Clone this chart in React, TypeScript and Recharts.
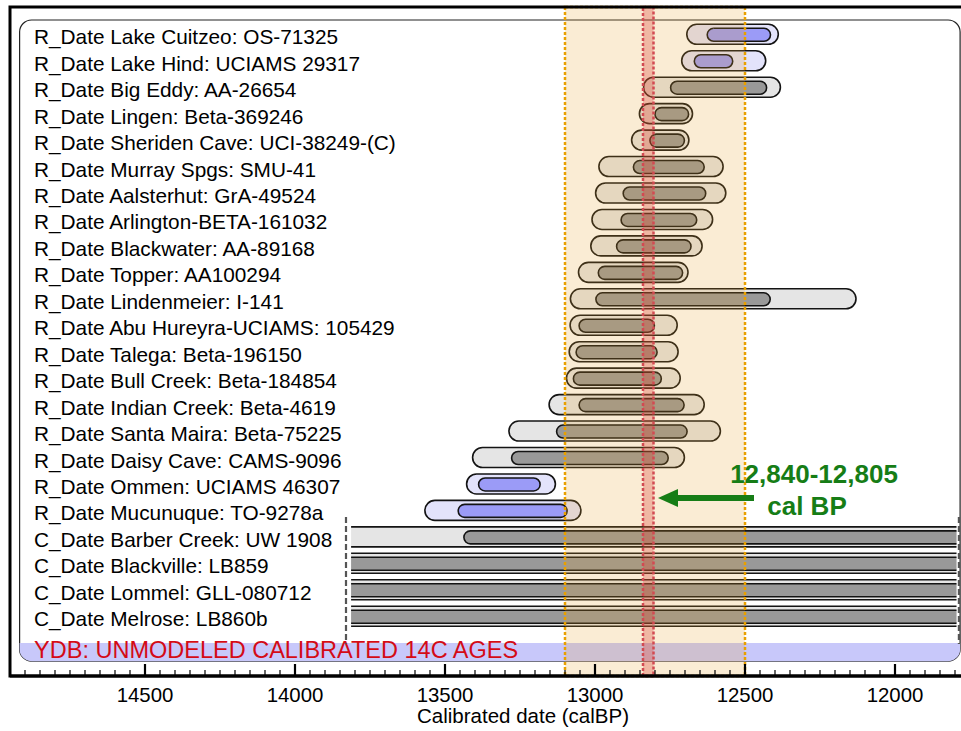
import { BarChart, Bar, XAxis, YAxis, ReferenceArea, ReferenceLine, LabelList } from 'recharts';

// rows, top to bottom
const labels = [
    'R_Date Lake Cuitzeo: OS-71325',
    'R_Date Lake Hind: UCIAMS 29317',
    'R_Date Big Eddy: AA-26654',
    'R_Date Lingen: Beta-369246',
    'R_Date Sheriden Cave: UCI-38249-(C)',
    'R_Date Murray Spgs: SMU-41',
    'R_Date Aalsterhut: GrA-49524',
    'R_Date Arlington-BETA-161032',
    'R_Date Blackwater: AA-89168',
    'R_Date Topper: AA100294',
    'R_Date Lindenmeier: I-141',
    'R_Date Abu Hureyra-UCIAMS: 105429',
    'R_Date Talega: Beta-196150',
    'R_Date Bull Creek: Beta-184854',
    'R_Date Indian Creek: Beta-4619',
    'R_Date Santa Maira: Beta-75225',
    'R_Date Daisy Cave: CAMS-9096',
    'R_Date Ommen: UCIAMS 46307',
    'R_Date Mucunuque: TO-9278a',
    'C_Date Barber Creek: UW 1908',
    'C_Date Blackville: LB859',
    'C_Date Lommel: GLL-080712',
    'C_Date Melrose: LB860b',
];

const kinds = [
    'blue', 'blue', 'grey', 'grey', 'grey', 'grey', 'grey', 'grey', 'grey', 'grey', 'grey', 'grey',
    'grey', 'grey', 'grey', 'grey', 'grey', 'blue', 'blue', 'grey', 'grey', 'grey', 'grey',
];

// calBP, wide (95%) range
const outerOld = [
    12694, 12711, 12838, 12852, 12878, 12987, 12998, 13010, 13014, 13055, 13082, 13083,
    13086, 13095, 13153, 13287, 13408, 13428, 13567, 13813, 13813, 13813, 13813,
];
const outerYoung = [
    12389, 12431, 12382, 12675, 12687, 12573, 12564, 12608, 12643, 12690, 12130, 12726,
    12723, 12716, 12636, 12582, 12702, 13132, 13047, 11795, 11795, 11795, 11795,
];
// narrow (68%) range
const innerOld = [
    12626, 12669, 12748, 12800, 12817, 12872, 12906, 12913, 12928, 12989, 12997, 13053,
    13063, 13072, 13053, 13128, 13278, 13388, 13456, 13437, 13813, 13813, 13813,
];
const innerYoung = [
    12415, 12541, 12428, 12688, 12702, 12636, 12631, 12661, 12680, 12708, 12416, 12802,
    12793, 12779, 12703, 12693, 12756, 13183, 13093, 11795, 11795, 11795, 11795,
];

// C_Date curves are cut off at these limits (dashed lines)
const CLIP_OLD = 13813;
const CLIP_YOUNG = 11795;

const majorTicks = [14500, 14000, 13500, 13000, 12500, 12000];

const X_MIN = 11770;
const X_MAX = 14950;
const minorTicks: number[] = [];
for (let v = 11800; v <= X_MAX; v += 50) minorTicks.push(v);

const YDB_BAND = [13100, 12500];
const YDB_ONSET = [12840, 12805];

const rows = labels.map((label, i) => ({
    idx: i,
    label,
    kind: kinds[i],
    outer: [outerOld[i], outerYoung[i]],
    inner: [innerOld[i], innerYoung[i]],
}));

// row axis: row index -> y, used for the decorations
const ROW_H = 26.45;
const PAD_TOP = 14.3;
const PAD_BOTTOM = 46.35;
const ROW_MIN = -0.5 - PAD_TOP / ROW_H;
const ROW_MAX = rows.length - 0.5 + PAD_BOTTOM / ROW_H;

const FONT = 'Liberation Sans, Arial, Helvetica, sans-serif';
const GREEN = '#167d16';

const COLORS: Record<string, { outer: string; inner: string }> = {
    grey: { outer: '#e5e5e5', inner: '#999999' },
    blue: { outer: '#e3e3fb', inner: '#9b9bf7' },
};

function pillPath(x: number, y: number, w: number, h: number, roundL: boolean, roundR: boolean, closed: boolean) {
    const r = h / 2;
    const l = x + (roundL ? r : 0);
    const rr = x + w - (roundR ? r : 0);
    const capR = roundR ? `A${r},${r} 0 0 1 ${rr},${y + h}` : closed ? `L${x + w},${y + h}` : `M${x + w},${y + h}`;
    const capL = roundL ? `A${r},${r} 0 0 1 ${l},${y}` : closed ? `L${x},${y}` : `M${x},${y}`;
    return `M${l},${y} L${rr},${y} ${capR} L${l},${y + h} ${capL}${closed ? ' Z' : ''}`;
}

const renderPill = (part: 'outer' | 'inner') => (props: any) => {
    const { x, y, width, height, payload } = props;
    if (width == null || height == null) return null;
    const x0 = Math.min(x, x + width);
    const w = Math.abs(width);
    const [oldV, youngV] = payload[part];
    const roundL = oldV !== CLIP_OLD;
    const roundR = youngV !== CLIP_YOUNG;
    const fill = COLORS[payload.kind][part];
    return (
        <g>
            <path d={pillPath(x0, y, w, height, roundL, roundR, true)} fill={fill} stroke="none" />
            <path d={pillPath(x0, y, w, height, roundL, roundR, false)} fill="none" stroke="#141414" strokeWidth={1.6} />
        </g>
    );
};

const RowLabel = (props: any) => {
    const vb = props.viewBox || props;
    const cy = vb.y + vb.height / 2;
    return (
        <text x={34} y={cy + 10} fontSize={20.8} fontFamily={FONT} fill="#000">
            {props.value}
        </text>
    );
};

const AxisTick = (props: any) => {
    const { x, y, payload } = props;
    const major = majorTicks.includes(payload.value);
    return (
        <g>
            <line x1={x} x2={x} y1={y - 1} y2={y - (major ? 12 : 6)} stroke="#000" strokeWidth={major ? 2.2 : 1.2} />
            {major && (
                <text x={x} y={y + 26} textAnchor="middle" fontSize={20.4} fontFamily={FONT} fill="#000">
                    {payload.value}
                </text>
            )}
        </g>
    );
};

const Arrow = (props: any) => {
    const { x1, y1, x2, y2 } = props;
    const head = 20;
    const dir = x2 < x1 ? 1 : -1;
    return (
        <g>
            <line x1={x1} y1={y1} x2={x2 + dir * head} y2={y2} stroke={GREEN} strokeWidth={6} />
            <polygon points={`${x2},${y2} ${x2 + dir * head},${y2 - 9} ${x2 + dir * head},${y2 + 9}`} fill={GREEN} />
            <text x={x1 + 60} y={y1 - 15} textAnchor="middle" fontSize={26} fontWeight="bold" fontFamily={FONT} fill={GREEN}>
                12,840-12,805
            </text>
            <text x={x1 + 53} y={y1 + 17} textAnchor="middle" fontSize={26} fontWeight="bold" fontFamily={FONT} fill={GREEN}>
                cal BP
            </text>
        </g>
    );
};

const YdbBand = (props: any) => {
    const { x, y, width, height } = props;
    const r = 12;
    const d = `M${x},${y} H${x + width} V${y + height - r} A${r},${r} 0 0 1 ${x + width - r},${y + height} H${x + r} A${r},${r} 0 0 1 ${x},${y + height - r} Z`;
    return (
        <g>
            <path d={d} fill="#c8c8fa" stroke="none" />
            <text x={x + 14.5} y={y + height - 3} fontSize={23.5} fontFamily={FONT} fill="#d40b16">
                YDB: UNMODELED CALIBRATED 14C AGES
            </text>
        </g>
    );
};

const InnerBox = (props: any) => {
    const { x, y, width, height } = props;
    return <rect x={x} y={y} width={width} height={height} rx={12} ry={12} fill="#fff" stroke="#222" strokeWidth={1.2} />;
};

export default function App() {
    return (
        <div>
            <style>{'body{margin:0;overflow:hidden;background:#fff}'}</style>
            <BarChart
                width={964}
                height={731}
                data={rows}
                layout="vertical"
                margin={{ top: 7, right: 0, bottom: 0, left: 10 }}
            >
                <XAxis
                    type="number"
                    domain={[X_MIN, X_MAX]}
                    reversed
                    allowDataOverflow
                    ticks={minorTicks}
                    interval={0}
                    tick={<AxisTick />}
                    tickLine={false}
                    tickSize={0}
                    tickMargin={0}
                    axisLine={{ stroke: '#000', strokeWidth: 3 }}
                    height={55}
                    label={{
                        content: (p: any) => (
                            <text
                                x={p.viewBox.x + p.viewBox.width / 2 + 36}
                                y={p.viewBox.y + 47}
                                textAnchor="middle"
                                fontSize={20.5}
                                fontFamily={FONT}
                                fill="#000"
                            >
                                Calibrated date (calBP)
                            </text>
                        ),
                    }}
                />
                <YAxis
                    yAxisId="outer"
                    type="category"
                    dataKey="label"
                    hide
                    padding={{ top: PAD_TOP, bottom: PAD_BOTTOM }}
                />
                <YAxis
                    yAxisId="inner"
                    type="category"
                    dataKey="label"
                    hide
                    padding={{ top: PAD_TOP, bottom: PAD_BOTTOM }}
                />
                {/* in this vertical layout a Y axis already runs top to bottom */}
                <YAxis
                    yAxisId="row"
                    type="number"
                    dataKey="idx"
                    domain={[ROW_MIN, ROW_MAX]}
                    allowDataOverflow
                    hide
                />

                <ReferenceArea
                    yAxisId="row"
                    x1={14918}
                    x2={11783}
                    y1={-0.55}
                    y2={23.69}
                    shape={InnerBox}
                    zIndex={-200}
                />
                <ReferenceArea
                    yAxisId="row"
                    x1={14918}
                    x2={11783}
                    y1={23.0}
                    y2={23.69}
                    shape={YdbBand}
                    zIndex={-150}
                />

                <Bar yAxisId="outer" dataKey="outer" barSize={20} shape={renderPill('outer')} isAnimationActive={false}>
                    <LabelList dataKey="label" content={RowLabel} />
                </Bar>
                <Bar yAxisId="inner" dataKey="inner" barSize={13} shape={renderPill('inner')} isAnimationActive={false} />

                <ReferenceArea
                    yAxisId="row"
                    x1={YDB_BAND[0]}
                    x2={YDB_BAND[1]}
                    fill="rgb(232,160,40)"
                    fillOpacity={0.2}
                    stroke="#e8a000"
                    strokeWidth={2.5}
                    strokeDasharray="3 2"
                    zIndex={350}
                />
                <ReferenceArea
                    yAxisId="row"
                    x1={YDB_ONSET[0]}
                    x2={YDB_ONSET[1]}
                    fill="rgb(220,60,50)"
                    fillOpacity={0.3}
                    stroke="#d24a52"
                    strokeWidth={2.5}
                    strokeDasharray="3 2"
                    zIndex={360}
                />

                <ReferenceLine
                    yAxisId="row"
                    segment={[{ x: 13830, y: 18.24 }, { x: 13830, y: 23.04 }]}
                    stroke="#555"
                    strokeWidth={2.2}
                    strokeDasharray="6 3"
                    zIndex={370}
                />
                <ReferenceLine
                    yAxisId="row"
                    segment={[{ x: 11787, y: 18.24 }, { x: 11787, y: 23.04 }]}
                    stroke="#555"
                    strokeWidth={2.2}
                    strokeDasharray="6 3"
                    zIndex={370}
                />

                <ReferenceLine
                    yAxisId="row"
                    segment={[{ x: 12470, y: 17.52 }, { x: 12790, y: 17.52 }]}
                    shape={Arrow}
                    zIndex={700}
                />

                <ReferenceArea
                    yAxisId="row"
                    x1={X_MAX}
                    x2={X_MIN}
                    fill="none"
                    stroke="#000"
                    strokeWidth={3}
                    zIndex={600}
                />
            </BarChart>
        </div>
    );
}
